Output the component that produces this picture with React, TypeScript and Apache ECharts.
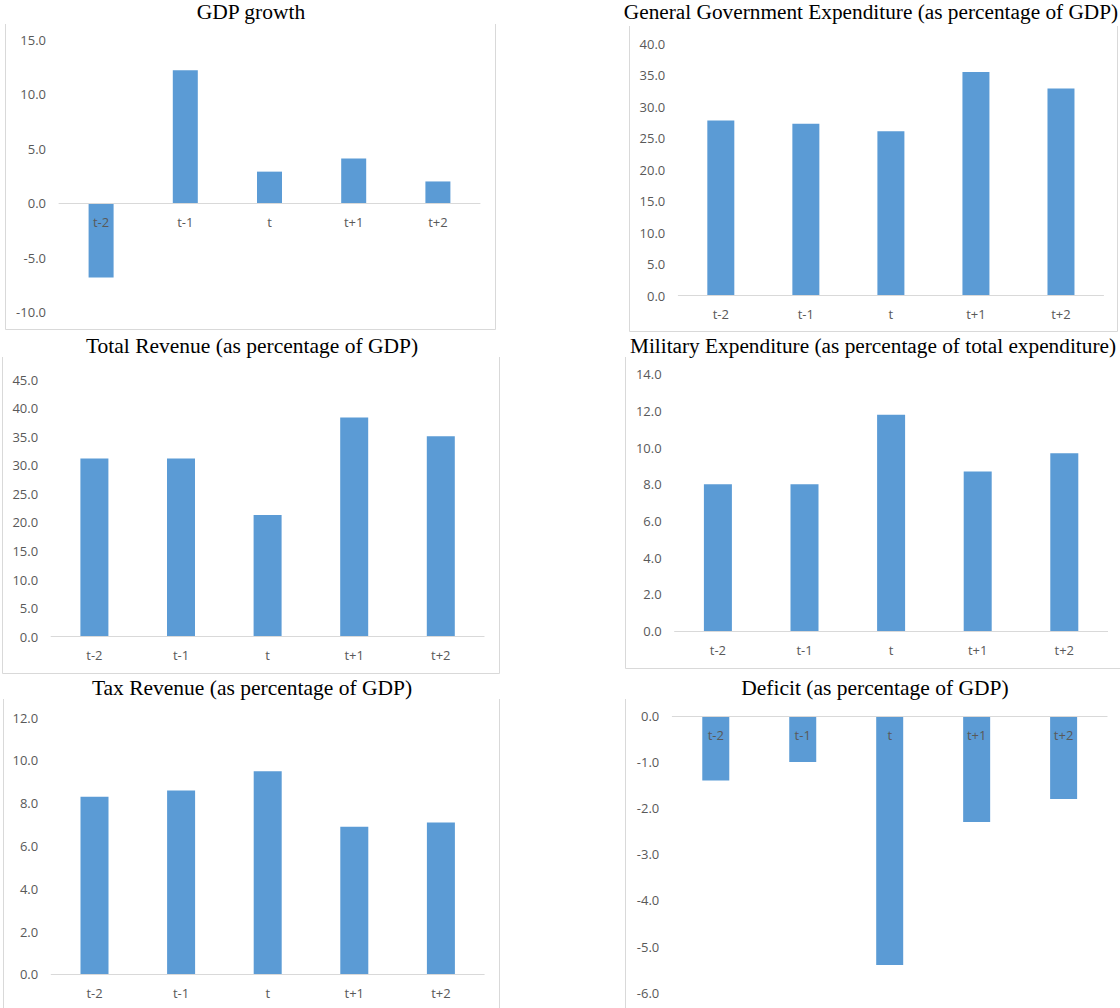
import React, { useEffect, useRef } from "react";
import * as echarts from "echarts";

const categories = ["t-2", "t-1", "t", "t+1", "t+2"];
const gdpGrowth = [-6.8, 12.2, 2.9, 4.1, 2.0];
const govExpenditure = [27.8, 27.3, 26.1, 35.5, 32.9];
const totalRevenue = [31.2, 31.2, 21.3, 38.4, 35.1];
const militaryExpenditure = [8.0, 8.0, 11.8, 8.7, 9.7];
const taxRevenue = [8.3, 8.6, 9.5, 6.9, 7.1];
const deficit = [-1.4, -1.0, -5.4, -2.3, -1.8];

const titles = [
  "GDP growth",
  "General Government Expenditure (as percentage of GDP)",
  "Total Revenue (as percentage of GDP)",
  "Military Expenditure (as percentage of total expenditure)",
  "Tax Revenue (as percentage of GDP)",
  "Deficit (as percentage of GDP)",
];
const seriesData = [gdpGrowth, govExpenditure, totalRevenue, militaryExpenditure, taxRevenue, deficit];
const axisMin = [-10, 0, 0, 0, 0, -6];
const axisMax = [15, 40, 45, 14, 12, 0];
const axisStep = [5, 5, 5, 2, 2, 1];

const layout = [
  { left: 59, width: 421, top: 39.7, height: 272.6, barW: 25, tx: 251, ty: 12, fs: 21.5 },
  { left: 678.3, width: 425.2, top: 43.7, height: 252, barW: 27, tx: 871, ty: 12, fs: 21.3 },
  { left: 51.1, width: 433, top: 379.7, height: 257, barW: 28, tx: 252, ty: 346, fs: 21.5 },
  { left: 674.6, width: 433, top: 374.3, height: 256.7, barW: 28, tx: 873, ty: 346, fs: 21.3 },
  { left: 51.2, width: 433, top: 717.7, height: 256.6, barW: 28, tx: 252, ty: 688, fs: 21.5 },
  { left: 672.3, width: 434.8, top: 716, height: 276.7, barW: 27, tx: 875, ty: 688, fs: 21.5 },
];

const borders: number[][][] = [
  [[5.5, 24], [5.5, 329.5], [495.5, 329.5], [495.5, 24]],
  [[629.5, 26], [629.5, 331.5], [1117.5, 331.5], [1117.5, 26]],
  [[2.5, 357], [2.5, 673.5], [499.5, 673.5], [499.5, 357]],
  [[625.5, 357], [625.5, 668.5], [1120, 668.5]],
  [[3.5, 699], [3.5, 1008]],
  [[499.5, 699], [499.5, 1008]],
  [[625.5, 699], [625.5, 1008]],
];

const BAR = "#5B9BD5";
const GRAY = "#595959";
const LINE = "#D9D9D9";
const SANS = "'Open Sans', 'Liberation Sans', sans-serif";
const SERIF = "'Liberation Serif', 'Times New Roman', serif";

export default function App() {
  const ref = useRef<HTMLDivElement>(null);
  useEffect(() => {
    if (!ref.current) return;
    const chart = echarts.init(ref.current, null, { renderer: "svg" });
    const grids = layout.map((l) => ({
      left: l.left,
      top: l.top,
      width: l.width,
      height: l.height,
      containLabel: false,
      outerBoundsMode: "none",
    }));
    // place the category axis (line + labels) at the value 0 of each panel
    const xAxes = layout.map((l, i) => {
      const zeroFrac = (0 - axisMin[i]) / (axisMax[i] - axisMin[i]);
      return {
        type: "category",
        gridIndex: i,
        data: categories,
        position: "bottom",
        offset: -l.height * zeroFrac,
        z: 5,
        axisLine: { show: true, onZero: false, lineStyle: { color: LINE, width: 1 } },
        axisTick: { show: false },
        axisLabel: { color: GRAY, fontSize: 13, fontFamily: SANS, margin: 12 },
        splitLine: { show: false },
      };
    });
    const yAxes = layout.map((_, i) => ({
      type: "value",
      gridIndex: i,
      min: axisMin[i],
      max: axisMax[i],
      interval: axisStep[i],
      axisLine: { show: false },
      axisTick: { show: false },
      splitLine: { show: false },
      axisLabel: {
        color: GRAY,
        fontSize: 13,
        fontFamily: SANS,
        margin: 13,
        formatter: (v: number) => v.toFixed(1),
      },
    }));
    const series = layout.map((l, i) => ({
      type: "bar",
      xAxisIndex: i,
      yAxisIndex: i,
      data: seriesData[i],
      barWidth: l.barW,
      itemStyle: { color: BAR },
      z: 2,
    }));
    const graphic: any[] = [];
    borders.forEach((pts) => {
      graphic.push({
        type: "polyline",
        silent: true,
        shape: { points: pts },
        style: { stroke: LINE, lineWidth: 1, fill: "none" },
        z: 0,
      });
    });
    layout.forEach((l, i) => {
      graphic.push({
        type: "text",
        x: l.tx,
        y: l.ty,
        silent: true,
        z: 10,
        style: {
          text: titles[i],
          font: `${l.fs}px ${SERIF}`,
          fill: "#000000",
          textAlign: "center",
          textVerticalAlign: "middle",
        },
      });
    });
    chart.setOption({
      animation: false,
      backgroundColor: "#ffffff",
      grid: grids,
      xAxis: xAxes,
      yAxis: yAxes,
      series,
      graphic,
    });
    return () => chart.dispose();
  }, []);
  return (
    <div
      ref={ref}
      style={{ position: "absolute", left: 0, top: 0, width: 1120, height: 1008 }}
    />
  );
}
